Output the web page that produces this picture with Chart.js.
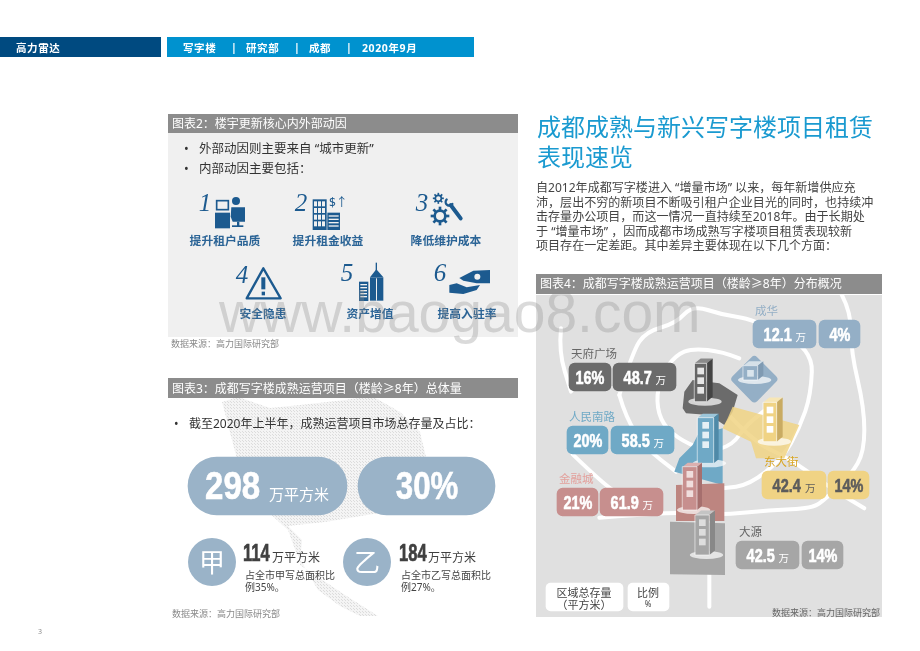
<!DOCTYPE html>
<html lang="zh">
<head>
<meta charset="utf-8">
<title>成都写字楼</title>
<script src="https://cdn.jsdelivr.net/npm/chart.js@4"></script>
<style>
    html, body { margin: 0; background: #fff; overflow: hidden; }
    #page { position: relative; width: 920px; height: 651px; overflow: hidden; font-family: 'Noto Sans', 'Noto Sans CJK SC', sans-serif; }
    #page canvas { position: absolute; left: 0; top: 0; }
    .t { position: absolute; white-space: nowrap; transform: translateY(-50%); line-height: 1; }
    .c { transform: translate(-50%, -50%); }
    .num { display: inline-block; transform-origin: left center; font-family: 'Liberation Sans', sans-serif; font-weight: 700; -webkit-text-stroke: .6px currentColor; }
</style>
</head>
<body>
<div id="page"><canvas id="chart" width="920" height="651"></canvas></div>
<script>
    const districtNames = ['成华', '天府广场', '人民南路', '金融城', '东大街', '大源'];
    const districtAreas = [12.1, 48.7, 58.5, 61.9, 42.4, 42.5];
    const districtShares = [4, 16, 20, 21, 14, 14];

    const marketStock = 298;
    const marketShare = 30;
    const gradeNames = ['甲', '乙'];
    const gradeAreas = [114, 184];
    const gradeShares = [35, 27];

    const driverNames = ['提升租户品质', '提升租金收益', '降低维护成本', '安全隐患', '资产增值', '提高入驻率'];

    // layout of the slide, in page pixels
    const districtColors = ['#94afc6', '#6b6b6b', '#6fa9c6', '#c78f8e', '#f0d384', '#a6a6a6'];
    const districtText = ['#94afc6', '#666', '#6fa9c6', '#e3a09c', '#d9a520', '#666'];
    const pillText = ['#fff', '#fff', '#fff', '#fff', '#5c5c5c', '#fff'];
    const nameSpots = [[755, 311], [571, 354], [569, 417], [559, 479], [764, 462], [739, 532]];
    const areaPills = [[753, 816, 334], [613, 676, 377], [611, 674, 440], [600, 663, 502], [762, 826, 485], [736, 799, 555]];
    const sharePills = [[819, 860, 334], [569, 611, 377], [567, 608, 440], [557, 598, 502], [828, 869, 485], [802, 843, 555]];

    const page = document.getElementById('page');
    const ink = '#1c5a8f';

    function put(text, x, y, css, cls) {
        const el = document.createElement('div');
        el.className = 't ' + (cls || '');
        el.style.cssText = `left:${x}px;top:${y}px;${css || ''}`;
        el.innerHTML = text;
        page.appendChild(el);
        return el;
    }

    // condensed look for the big figures, no narrow face is installed
    function squeezed(text, size, squeeze) {
        const width = text.replace(/[.]/g, '').length * size * .556 * squeeze + (text.includes('.') ? size * .278 * squeeze : 0) + (text.includes('%') ? size * .333 * squeeze : 0);
        return `<span style="display:inline-block;width:${width}px"><span class="num" style="font-size:${size}px;transform:scaleX(${squeeze})">${text}</span></span>`;
    }

    function poly(ctx, pts, fill) {
        ctx.beginPath();
        pts.forEach((p, i) => i ? ctx.lineTo(p[0], p[1]) : ctx.moveTo(p[0], p[1]));
        ctx.closePath();
        ctx.fillStyle = fill;
        ctx.fill();
    }

    function road(ctx, pts) {
        ctx.beginPath();
        ctx.moveTo(pts[0][0], pts[0][1]);
        for (let i = 1; i < pts.length - 1; i++) {
            const mx = (pts[i][0] + pts[i + 1][0]) / 2;
            const my = (pts[i][1] + pts[i + 1][1]) / 2;
            ctx.quadraticCurveTo(pts[i][0], pts[i][1], mx, my);
        }
        ctx.lineTo(pts[pts.length - 1][0], pts[pts.length - 1][1]);
        ctx.stroke();
    }

    function building(ctx, box, colors, windows) {
        const [x0, x1, side, top, bottom] = box;
        const lift = (side - x1) * .8;
        ctx.fillStyle = 'rgba(255,255,255,.7)';
        ctx.beginPath();
        ctx.ellipse((x0 + side) / 2 + 4, bottom, 50, 12, 0, 0, Math.PI * 2);
        ctx.fill();
        poly(ctx, [[x0, top], [x0 + side - x1, top - lift], [side, top - lift], [x1, top]], colors[2]);
        poly(ctx, [[x1, top], [side, top - lift], [side, bottom - lift], [x1, bottom]], colors[1]);
        ctx.fillStyle = colors[0];
        ctx.fillRect(x0, top, x1 - x0, bottom - top);
        ctx.strokeStyle = 'rgba(255,255,255,.85)';
        ctx.lineWidth = 2;
        ctx.strokeRect(x0, top, x1 - x0, bottom - top);
        for (let i = 0; i < windows; i++) {
            ctx.fillStyle = colors[3];
            ctx.fillRect((x0 + x1) / 2 - 10, top + 13 + i * 29, 20, 20);
        }
    }

    function drawPanels(ctx) {
        ctx.fillStyle = '#004a80';
        ctx.fillRect(0, 37, 161, 20);
        ctx.fillStyle = '#0092cf';
        ctx.fillRect(167, 37, 307, 20);

        ctx.fillStyle = '#f0f0f0';
        ctx.fillRect(168, 133, 350, 204);
        ctx.fillStyle = '#8c8c8c';
        ctx.fillRect(168, 114, 350, 19);

        // dotted district outline behind the third panel
        const dot = document.createElement('canvas');
        dot.width = dot.height = 3;
        const d = dot.getContext('2d');
        d.fillStyle = '#f4f4f4';
        d.fillRect(0, 0, 3, 3);
        d.fillStyle = '#dcdcdc';
        d.fillRect(0, 0, 1, 1);
        d.fillRect(2, 2, 1, 1);
        poly(ctx, [[222, 402], [238, 397], [270, 408], [300, 405], [345, 400], [372, 396], [400, 412], [420, 432], [428, 465],
            [415, 495], [385, 512], [325, 522], [288, 526], [302, 540], [300, 565], [345, 595], [378, 616], [360, 616], [340, 606], [318, 590],
            [296, 552], [288, 530], [255, 500], [240, 470], [232, 440]], ctx.createPattern(dot, 'repeat'));

        ctx.fillStyle = '#8c8c8c';
        ctx.fillRect(168, 378, 350, 20);
        ctx.fillRect(536, 274, 346, 20);
        ctx.fillStyle = '#e0e0e0';
        ctx.fillRect(536, 295, 346, 322);
    }

    // map artwork is traced at 3x, from the corner of the panel
    function drawMap(ctx) {
        ctx.save();
        ctx.beginPath();
        ctx.rect(536, 295, 346, 322);
        ctx.clip();
        ctx.translate(536, 295);
        ctx.scale(1 / 3, 1 / 3);

        ctx.strokeStyle = '#fff';
        ctx.lineCap = 'round';
        ctx.lineJoin = 'round';
        ctx.lineWidth = 12;
        road(ctx, [[915, -5], [945, 50], [945, 170], [985, 340], [985, 470], [945, 540], [870, 610], [830, 640], [700, 645], [560, 660], [420, 652], [300, 660], [190, 668]]);
        road(ctx, [[75, 100], [68, 170], [105, 290]]);
        road(ctx, [[110, 478], [190, 555], [250, 600]]);
        road(ctx, [[250, 300], [290, 170], [330, 110], [420, 85], [470, 30], [560, 60], [650, 72], [830, 160], [825, 300], [790, 400], [740, 490], [640, 570], [560, 580]]);
        road(ctx, [[250, 300], [270, 370], [330, 460], [420, 530]]);
        road(ctx, [[610, 190], [560, 170], [470, 160], [420, 180], [375, 240], [360, 320], [380, 390], [440, 440], [520, 470], [590, 450], [630, 390], [720, 320]]);
        road(ctx, [[560, 340], [650, 440], [760, 490], [870, 570], [985, 640]]);
        road(ctx, [[520, 830], [520, 935]]);

        poly(ctx, [[440, 340], [445, 290], [470, 255], [550, 265], [605, 300], [590, 350], [565, 390], [520, 360], [450, 355]], '#6b6b6b');
        ctx.strokeStyle = '#94afc6';
        ctx.lineWidth = 24;
        poly(ctx, [[655, 195], [712, 252], [655, 310], [598, 252]], '#94afc6');
        ctx.stroke();
        poly(ctx, [[590, 335], [790, 390], [745, 490], [660, 490], [645, 440], [560, 400], [575, 370]], 'rgba(240,211,132,.85)');
        poly(ctx, [[485, 420], [560, 400], [560, 570], [415, 530], [430, 490], [470, 450]], '#6fa9c6');
        poly(ctx, [[420, 570], [565, 565], [565, 678], [420, 678]], '#bd8580');
        poly(ctx, [[402, 680], [567, 685], [567, 840], [402, 838]], '#a6a6a6');

        building(ctx, [476, 512, 530, 205, 320], ['#666', '#444', '#8a8a8a', '#e6e6e6'], 3);
        building(ctx, [622, 665, 682, 212, 255], ['#94afc6', '#7f9ab2', '#d5e0e8', '#d9e4ec'], 1);
        building(ctx, [682, 722, 740, 322, 440], ['#f0d384', '#c9ab62', '#f7e6b5', '#fff'], 3);
        building(ctx, [485, 533, 548, 368, 505], ['#6fa9c6', '#4f8aa8', '#9cc6da', '#e6f0f5'], 3);
        building(ctx, [440, 483, 498, 515, 645], ['#c78f8e', '#a66f6e', '#dcb0af', '#f0dedd'], 3);
        building(ctx, [478, 520, 537, 660, 780], ['#a6a6a6', '#888', '#c4c4c4', '#ddd'], 3);
        ctx.restore();
    }

    function gear(ctx, x, y, r, w) {
        ctx.lineWidth = w;
        ctx.beginPath();
        ctx.arc(x, y, r, 0, Math.PI * 2);
        ctx.stroke();
        for (let i = 0; i < 8; i++) {
            const a = i * Math.PI / 4;
            ctx.beginPath();
            ctx.moveTo(x + Math.cos(a) * r, y + Math.sin(a) * r);
            ctx.lineTo(x + Math.cos(a) * (r + w * 1.5), y + Math.sin(a) * (r + w * 1.5));
            ctx.stroke();
        }
    }

    // icons are traced at 3x as well
    function drawIcons(ctx) {
        const gray = '#f0f0f0';
        ctx.save();
        ctx.translate(190, 190);
        ctx.scale(1 / 3, 1 / 3);
        ctx.fillStyle = ink;
        ctx.strokeStyle = ink;

        // 1 desk and person
        ctx.lineWidth = 5;
        ctx.strokeRect(80, 32, 35, 27);
        poly(ctx, [[75, 68], [120, 68], [120, 115], [75, 115]], ink);
        ctx.beginPath();
        ctx.arc(138, 33, 12, 0, Math.PI * 2);
        ctx.fill();
        poly(ctx, [[124, 52], [165, 52], [165, 95], [128, 95], [122, 80]], ink);
        ctx.fillRect(141, 95, 7, 14);
        ctx.fillRect(126, 106, 34, 5);

        // 2 buildings
        ctx.fillRect(368, 28, 42, 92);
        ctx.fillRect(412, 68, 38, 52);
        ctx.fillStyle = gray;
        for (let r = 0; r < 4; r++) {
            for (let c = 0; c < 3; c++) ctx.fillRect(372 + c * 12, 34 + r * 20, 9, 15);
            ctx.fillRect(416, 76 + r * 10, 30, 4);
        }
        ctx.fillStyle = ink;

        // 3 gears and wrench
        gear(ctx, 745, 25, 9, 5);
        gear(ctx, 750, 78, 16, 8);
        ctx.lineWidth = 12;
        ctx.lineCap = 'round';
        ctx.beginPath();
        ctx.moveTo(782, 45);
        ctx.lineTo(812, 85);
        ctx.stroke();
        ctx.lineWidth = 7;
        ctx.beginPath();
        ctx.arc(778, 36, 11, .6, 3.9);
        ctx.stroke();

        // 4 warning triangle
        ctx.lineWidth = 7;
        ctx.lineCap = 'butt';
        ctx.lineJoin = 'round';
        ctx.beginPath();
        ctx.moveTo(220, 235);
        ctx.lineTo(272, 325);
        ctx.lineTo(170, 325);
        ctx.closePath();
        ctx.stroke();
        ctx.fillRect(214, 262, 12, 36);
        ctx.fillRect(215, 305, 10, 11);

        // 5 towers
        ctx.fillRect(507, 275, 28, 58);
        ctx.fillRect(540, 262, 40, 70);
        poly(ctx, [[540, 262], [559, 238], [580, 262]], ink);
        ctx.fillRect(557, 218, 4, 25);
        ctx.fillStyle = gray;
        for (let r = 0; r < 5; r++) ctx.fillRect(511, 282 + r * 9, 20, 4);
        ctx.fillRect(558, 265, 3, 67);
        ctx.fillStyle = ink;

        // 6 hand and coin
        poly(ctx, [[808, 264], [850, 242], [900, 240], [900, 280], [860, 280], [820, 272]], ink);
        poly(ctx, [[778, 285], [800, 280], [830, 292], [870, 285], [860, 300], [820, 312], [778, 308]], ink);
        ctx.fillStyle = gray;
        ctx.beginPath();
        ctx.arc(862, 260, 9, 0, Math.PI * 2);
        ctx.fill();
        ctx.restore();
    }

    const slidePlugin = {
        id: 'slide',
        beforeDatasetsDraw(chart) {
            drawPanels(chart.ctx);
            drawMap(chart.ctx);
            drawIcons(chart.ctx);
        }
    };

    function pillRow(pills) {
        return pills.map(p => ({ x: [p[0], p[1]], y: p[2] }));
    }

    const chart = new Chart('chart', {
        type: 'bar',
        data: {
            datasets: [
                {
                    data: pillRow([[188, 347, 486], [358, 495, 486]]),
                    backgroundColor: '#9ab3c8',
                    barThickness: 58,
                    borderRadius: 29,
                    borderSkipped: false,
                    grouped: false
                },
                {
                    data: pillRow(areaPills),
                    backgroundColor: districtColors,
                    barThickness: 28,
                    borderRadius: 6,
                    borderSkipped: false,
                    grouped: false
                },
                {
                    data: pillRow(sharePills),
                    backgroundColor: districtColors,
                    barThickness: 28,
                    borderRadius: 6,
                    borderSkipped: false,
                    grouped: false
                },
                {
                    data: pillRow([[546, 623, 597], [628, 669, 597]]),
                    backgroundColor: '#fff',
                    barThickness: 28,
                    borderRadius: 5,
                    borderSkipped: false,
                    grouped: false
                },
                {
                    type: 'scatter',
                    data: [{ x: 212, y: 562 }, { x: 367, y: 562 }],
                    backgroundColor: '#9ab3c8',
                    borderWidth: 0,
                    pointRadius: 24,
                    pointHoverRadius: 24
                }
            ]
        },
        options: {
            indexAxis: 'y',
            responsive: false,
            animation: false,
            events: [],
            layout: { padding: 0, autoPadding: false },
            plugins: { legend: { display: false }, tooltip: { enabled: false } },
            scales: {
                x: { type: 'linear', min: 0, max: 920, display: false, offset: false },
                y: { type: 'linear', min: 0, max: 651, reverse: true, display: false, offset: false }
            }
        },
        plugins: [slidePlugin]
    });

    function printHeader() {
        const css = 'color:#fff;font-size:10.5px;font-weight:700;letter-spacing:.6px;';
        put('高力雷达', 16, 47.5, css);
        put('写字楼', 183, 47.5, css);
        put('|', 231, 47, css);
        put('研究部', 246, 47.5, css);
        put('|', 294, 47, css);
        put('成都', 309, 47.5, css);
        put('|', 346, 47, css);
        put('2020年9月', 362, 47.5, css);
    }

    function printDrivers() {
        put('图表2：楼宇更新核心内外部动因', 172, 123.5, 'color:#fff;font-size:12px;');
        const body = 'color:#333;font-size:12.5px;';
        put('•', 184, 149, body);
        put('外部动因则主要来自 “城市更新”', 199, 149, body);
        put('•', 184, 169, body);
        put('内部动因主要包括：', 199, 169, body);

        const spots = [[225, 241], [328, 241], [446, 241], [263, 314], [370, 314], [467, 314]];
        const numbers = [[205, 203], [301, 203], [422, 203], [242, 275], [347, 273], [440, 273]];
        driverNames.forEach((name, i) => {
            put(name, spots[i][0], spots[i][1], 'color:#2b6496;font-size:11.8px;font-weight:700;', 'c');
            put(String(i + 1), numbers[i][0], numbers[i][1], `color:${ink};font:italic 25px 'Liberation Serif',serif;`, 'c');
        });
        put('$↑', 329, 203, `color:${ink};font-size:12px;`);
        put('数据来源：高力国际研究部', 171, 343, 'color:#8a8a8a;font-size:9px;');
    }

    function printStock() {
        put('图表3：成都写字楼成熟运营项目（楼龄≥8年）总体量', 172, 388.5, 'color:#fff;font-size:12px;');
        const body = 'color:#333;font-size:12px;';
        put('•', 174, 424, body);
        put('截至2020年上半年，成熟运营项目市场总存量及占比：', 189, 424, body);

        put(squeezed(String(marketStock), 38, .87), 205, 486, 'color:#fff;');
        put('万平方米', 269, 494, 'color:#fff;font-size:15px;');
        put(squeezed(marketShare + '%', 38, .82), 427, 486, 'color:#fff;', 'c');

        const numberX = [243, 399];
        gradeNames.forEach((name, i) => {
            const cx = chart.scales.x.getPixelForValue(i ? 367 : 212);
            put(name, cx, 562, 'color:#fff;font-size:26px;', 'c');
            put(squeezed(String(gradeAreas[i]), 23, .72), numberX[i], 553, 'color:#404040;');
            put('万平方米', numberX[i] + 29, 558, 'color:#404040;font-size:12px;');
            put(`占全市${name}写总面积比`, numberX[i] + 2, 575, 'color:#444;font-size:10px;');
            put(`例${gradeShares[i]}%。`, numberX[i] + 2, 587, 'color:#444;font-size:10px;');
        });
        put('数据来源：高力国际研究部', 172, 613, 'color:#8a8a8a;font-size:9px;');
        put('3', 38, 631, 'color:#8a8a8a;font-size:7px;');
    }

    function printArticle() {
        const title = 'color:#1a9ad0;font-size:24px;';
        put('成都成熟与新兴写字楼项目租赁', 537, 127, title);
        put('表现速览', 537, 157, title);
        const lines = [
            '自2012年成都写字楼进入 “增量市场” 以来，每年新增供应充',
            '沛，层出不穷的新项目不断吸引租户企业目光的同时，也持续冲',
            '击存量办公项目，而这一情况一直持续至2018年。由于长期处',
            '于 “增量市场” ，因而成都市场成熟写字楼项目租赁表现较新',
            '项目存在一定差距。其中差异主要体现在以下几个方面：'
        ];
        lines.forEach((line, i) => put(line, 536, 188 + i * 14.5, 'color:#444;font-size:12.05px;'));
    }

    function printMapLabels() {
        put('图表4：成都写字楼成熟运营项目（楼龄≥8年）分布概况', 540, 284, 'color:#fff;font-size:12px;');
        districtNames.forEach((name, i) => {
            put(name, nameSpots[i][0], nameSpots[i][1], `color:${districtText[i]};font-size:11.5px;`);
            const a = areaPills[i];
            const s = sharePills[i];
            put(`${squeezed(String(districtAreas[i]), 19, .76)} <span style="font-size:10.5px">万</span>`,
                (a[0] + a[1]) / 2, a[2], `color:${pillText[i]};`, 'c');
            put(squeezed(districtShares[i] + '%', 19, .76),
                (s[0] + s[1]) / 2, s[2], `color:${pillText[i]};`, 'c');
        });
        const legend = 'color:#444;font-size:11px;';
        put('区域总存量', 584, 592, legend, 'c');
        put('（平方米）', 584, 604, legend, 'c');
        put('比例', 648, 592, legend, 'c');
        put('%', 648, 604, 'color:#444;font-size:8px;', 'c');
        put('数据来源：高力国际研究部', 772, 612, 'color:#666;font-size:9px;');
    }

    printHeader();
    printDrivers();
    printStock();
    printArticle();
    printMapLabels();
    put('www.baogao8.com', 219, 312, "color:rgba(140,140,140,.32);font:57px 'Liberation Sans',sans-serif;");
</script>
</body>
</html>
